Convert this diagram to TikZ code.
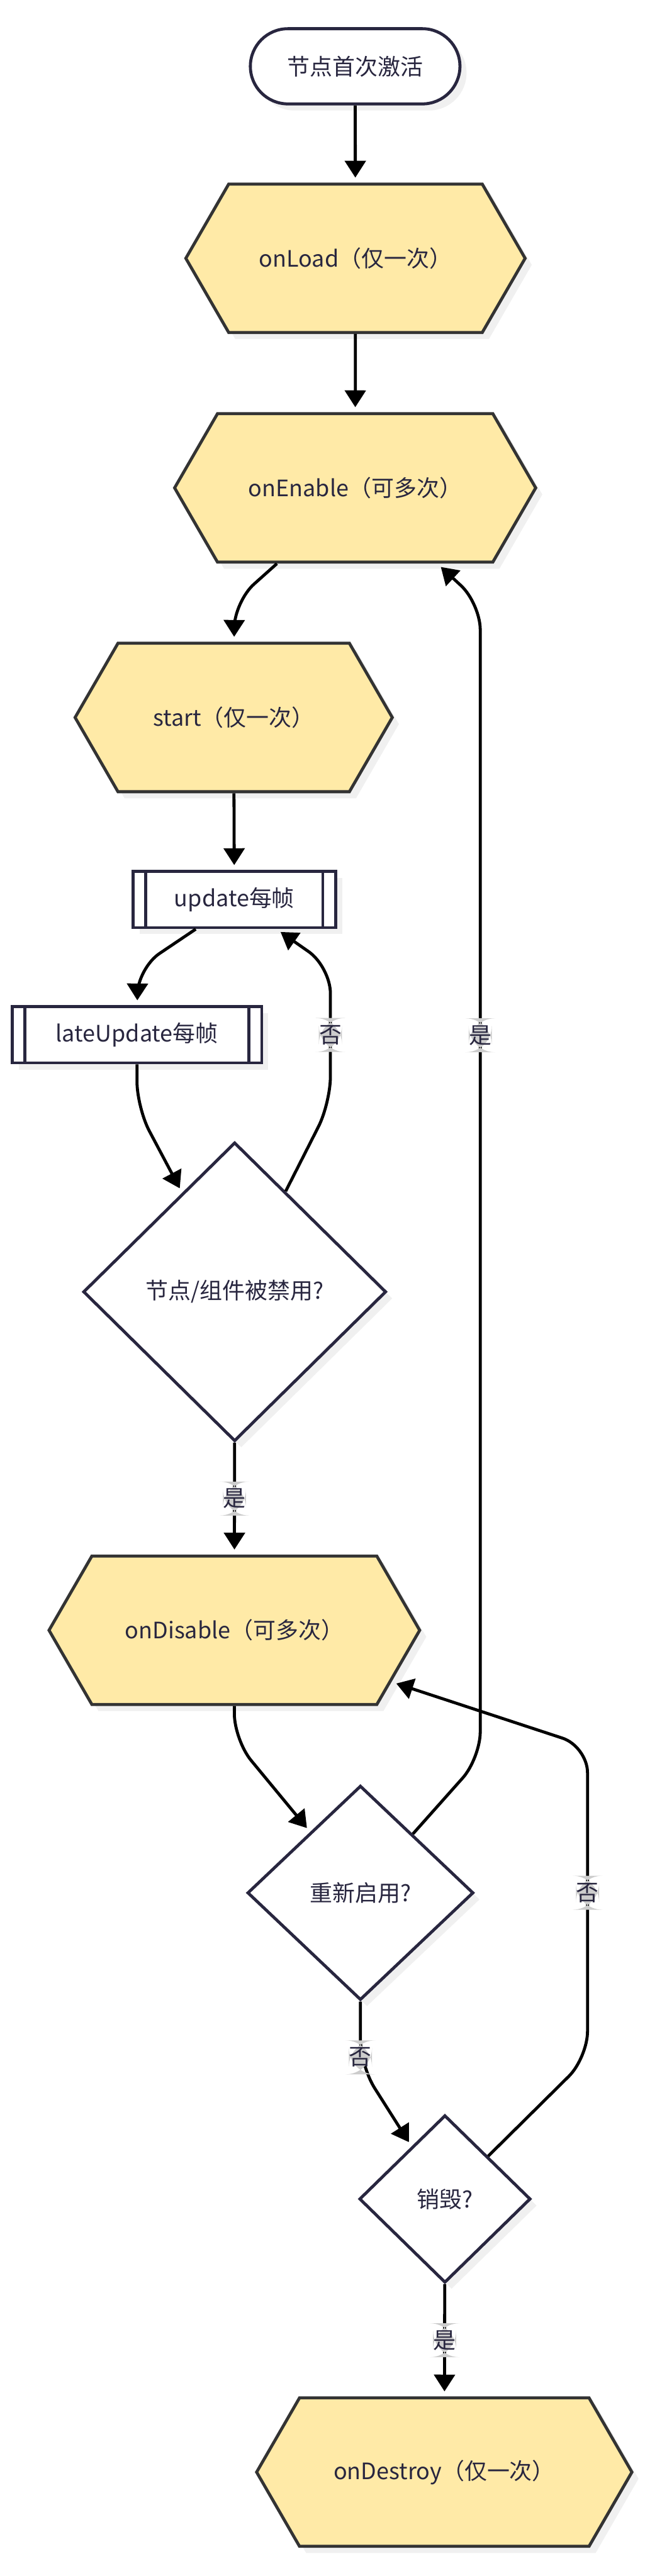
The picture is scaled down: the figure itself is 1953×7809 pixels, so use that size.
\documentclass[tikz,border=0pt]{standalone}
\usepackage{fontspec}
\setmainfont{Noto Sans CJK SC}
\usetikzlibrary{arrows.meta,shapes.geometric,shapes.symbols,shadows}

\definecolor{inkblue}{HTML}{28263F}
\definecolor{hexfill}{HTML}{FFEAA7}
\definecolor{hexline}{HTML}{333333}
\definecolor{shadowgray}{HTML}{F0F0F0}
\definecolor{labelgray}{HTML}{CCCCCC}

\tikzset{
  base/.style={font=\fontsize{19.5pt}{23pt}\selectfont, text=inkblue, line width=2.6pt,
    drop shadow={shadow xshift=2mm, shadow yshift=-2mm, fill=shadowgray, opacity=1}},
  terminal/.style={base, draw=inkblue, fill=white, rounded corners=11.4mm,
    minimum width=63.5mm, minimum height=22.8mm},
  hexnode/.style={base, signal, signal to=east and west, signal pointer angle=120,
    draw=hexline, fill=hexfill, minimum height=45mm},
  subbox/.style={base, draw=inkblue, fill=white, minimum height=17mm},
  decision/.style={base, diamond, draw=inkblue, fill=white, inner sep=0pt},
  flow/.style={line width=2.6pt, black, -{Triangle[width=6.3mm,length=5.1mm]},
    rounded corners=8mm, shorten >=1.5mm},
  edgelabel/.style={fill=labelgray, text=inkblue, font=\fontsize{19.5pt}{23pt}\selectfont,
    inner sep=0pt, minimum width=7mm, minimum height=10.3mm}
}

\begin{document}
\begin{tikzpicture}[x=0.1mm, y=-0.1mm]

\fill[white] (0,0) rectangle (1953,7809);
\useasboundingbox (0,0) rectangle (1953,7809);

% Nodes
\node[terminal] (activate) at (1076,201) {节点首次激活};
\node[hexnode, minimum width=102.8mm] (onload) at (1077,783) {onLoad（仅一次）};
\node[hexnode, minimum width=109.4mm] (onenable) at (1076,1479) {onEnable（可多次）};
\node[hexnode, minimum width=96.1mm] (startfn) at (708,2175) {start（仅一次）};
\node[subbox, minimum width=61.3mm] (update) at (710,2727) {update每帧};
\node[subbox, minimum width=75.6mm] (lateupdate) at (415,3137) {lateUpdate每帧};
\node[decision, minimum width=91.8mm, minimum height=90.6mm] (disabled) at (711,3916) {节点/组件被禁用?};
\node[hexnode, minimum width=112.3mm] (ondisable) at (710,4942) {onDisable（可多次）};
\node[decision, minimum width=68.5mm, minimum height=65mm] (reenable) at (1092,5738) {重新启用?};
\node[decision, minimum width=51.9mm, minimum height=50.8mm] (destroy) at (1348,6666) {销毁?};
\node[hexnode, minimum width=113.7mm] (ondestroy) at (1346,7494) {onDestroy（仅一次）};

% Subroutine bars
\foreach \n in {update,lateupdate} {
  \draw[line width=2.6pt, inkblue] ([xshift=4.3mm]\n.north west) -- ([xshift=4.3mm]\n.south west);
  \draw[line width=2.6pt, inkblue] ([xshift=-4.3mm]\n.north east) -- ([xshift=-4.3mm]\n.south east);
}

% Main flow
\draw[flow] (activate) -- (onload);
\draw[flow] (onload) -- (onenable);
\draw[flow] ([xshift=-23.7mm]onenable.south) -- (710,1824) -- (startfn);
\draw[flow] (startfn) -- (update);
\draw[flow] ([xshift=-11.7mm]update.south) -- (417,2935) -- (lateupdate);
\draw[flow] (lateupdate.south) -- (415,3358) -- (disabled);
\draw[flow] (disabled) -- (1001,3344) -- node[edgelabel] {否} (1001,2931) -- (update);
\draw[flow] (disabled) -- node[edgelabel] {是} (ondisable);
\draw[flow] (ondisable.south) -- (710,5275) -- (reenable);

% Loops back
\draw[flow] (reenable) -- (1455,5330) -- node[edgelabel, pos=0.626] {是} (1455,1829) -- (onenable);
\draw[flow] (reenable.south) -- node[edgelabel, pos=0.87] {否} (1092,6262) -- (destroy);
\draw[flow] (destroy) -- (1780,6238) -- node[edgelabel, pos=0.53] {否} (1780,5294) -- (ondisable);
\draw[flow] (destroy) -- node[edgelabel] {是} (ondestroy);

\end{tikzpicture}
\end{document}
